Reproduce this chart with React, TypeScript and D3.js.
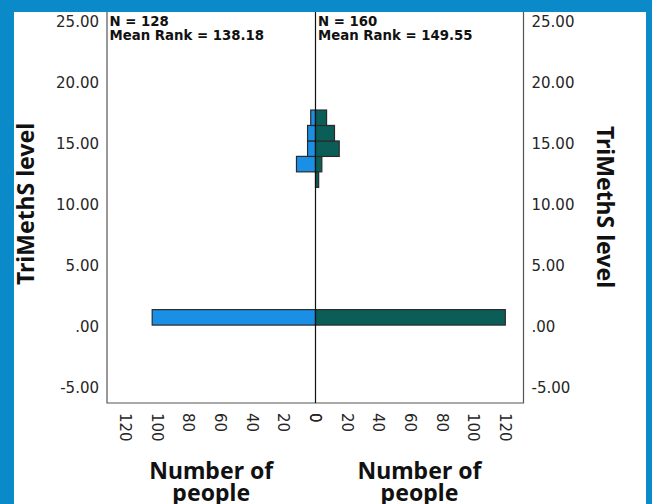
import React, { useRef, useEffect } from 'react';
import * as d3 from 'd3';

// histogram bins (lower edge of each bin, TriMethS level)
const binStarts = [0.15, 11.41, 12.68, 13.94, 15.21, 16.47];
const binWidth = 1.265;
const leftCounts = [103, 0, 12, 5, 5, 3];
const rightCounts = [120, 2, 4, 15, 12, 7];

const leftStats = ['N = 128', 'Mean Rank = 138.18'];
const rightStats = ['N = 160', 'Mean Rank = 149.55'];

const yTicks = [-5, 0, 5, 10, 15, 20, 25];
const xTicks = [0, 20, 40, 60, 80, 100, 120];

const W = 652;
const H = 504;
const BORDER = '#0a8ac8';
const LEFT_FILL = '#1a8fe6';
const RIGHT_FILL = '#0b5e58';

export default function App() {
  const svgRef = useRef<SVGSVGElement | null>(null);

  useEffect(() => {
    if (!svgRef.current) return;
    const svg = d3.select(svgRef.current);
    svg.selectAll('*').remove();

    const plot = { left: 107, right: 523.5, top: 12, bottom: 403 };
    const cx = 315.5;

    const y = d3.scaleLinear().domain([-6.22, 25.75]).range([plot.bottom, plot.top]);
    const xL = d3.scaleLinear().domain([0, 131.5]).range([cx, plot.left]);
    const xR = d3.scaleLinear().domain([0, 131.5]).range([cx, plot.right]);

    svg.append('rect').attr('width', W).attr('height', H).attr('fill', '#fff');

    const tickFmt = (d: number) => {
      const s = d3.format('.2f')(d);
      return d === 0 ? s.replace(/^0/, '') : s.replace('−', '-');
    };
    const tickFont = '"DejaVu Sans", sans-serif';

    // bars
    const bins = binStarts.map((s, i) => ({ s, l: leftCounts[i], r: rightCounts[i] }));
    const bars = svg.append('g').attr('stroke', '#2a2a2a').attr('stroke-width', 1.2);
    bars
      .selectAll('rect.l')
      .data(bins.filter((d) => d.l > 0))
      .join('rect')
      .attr('x', (d) => xL(d.l))
      .attr('y', (d) => y(d.s + binWidth))
      .attr('width', (d) => cx - xL(d.l))
      .attr('height', (d) => y(d.s) - y(d.s + binWidth))
      .attr('fill', LEFT_FILL);
    bars
      .selectAll('rect.r')
      .data(bins.filter((d) => d.r > 0))
      .join('rect')
      .attr('x', cx)
      .attr('y', (d) => y(d.s + binWidth))
      .attr('width', (d) => xR(d.r) - cx)
      .attr('height', (d) => y(d.s) - y(d.s + binWidth))
      .attr('fill', RIGHT_FILL);

    // frame + centre line
    const frame = svg.append('g').attr('fill', 'none');
    frame
      .append('path')
      .attr('d', `M${plot.left},${plot.top}V${plot.bottom}H${plot.right}V${plot.top}`)
      .attr('stroke', '#555')
      .attr('stroke-width', 1.2);
    frame
      .append('line')
      .attr('x1', cx)
      .attr('x2', cx)
      .attr('y1', plot.top)
      .attr('y2', plot.bottom)
      .attr('stroke', '#111')
      .attr('stroke-width', 1.2);

    // y tick labels, both sides
    const yl = svg
      .append('g')
      .attr('font-family', tickFont)
      .attr('font-size', 15)
      .attr('fill', '#262626');
    yl.selectAll('text.l')
      .data(yTicks)
      .join('text')
      .attr('x', plot.left - 8)
      .attr('y', (d) => y(d))
      .attr('dy', '0.36em')
      .attr('text-anchor', 'end')
      .text(tickFmt);
    yl.selectAll('text.r')
      .data(yTicks)
      .join('text')
      .attr('x', plot.right + 8)
      .attr('y', (d) => y(d))
      .attr('dy', '0.36em')
      .text(tickFmt);

    // x tick labels, rotated to read downwards
    const xl = svg
      .append('g')
      .attr('font-family', tickFont)
      .attr('font-size', 15)
      .attr('fill', '#262626');
    const addX = (scale: d3.ScaleLinear<number, number>) =>
      xl
        .append('g')
        .selectAll('text')
        .data(xTicks)
        .join('text')
        .attr('transform', (d) => `translate(${scale(d)},${plot.bottom + 10}) rotate(90)`)
        .attr('dy', '0.36em')
        .text((d) => d);
    addX(xL);
    addX(xR);

    // stats
    const stats = svg
      .append('g')
      .attr('font-family', '"DejaVu Sans", sans-serif')
      .attr('font-weight', 'bold')
      .attr('font-size', 13.3)
      .attr('fill', '#111');
    leftStats.forEach((t, i) => {
      stats.append('text').attr('x', plot.left + 2.5).attr('y', 26 + i * 14).text(t);
    });
    rightStats.forEach((t, i) => {
      stats.append('text').attr('x', cx + 2.5).attr('y', 26 + i * 14).text(t);
    });

    // axis titles
    const titles = svg
      .append('g')
      .attr('font-family', '"Noto Sans", sans-serif')
      .attr('font-weight', 'bold')
      .attr('font-size', 23)
      .attr('fill', '#111')
      .attr('text-anchor', 'middle');
    titles
      .append('text')
      .attr('transform', `translate(33.5,204) rotate(-90)`)
      .text('TriMethS level');
    titles
      .append('text')
      .attr('transform', `translate(597,207) rotate(90)`)
      .text('TriMethS level');
    [(plot.left + cx) / 2, (cx + plot.right) / 2].forEach((x) => {
      titles.append('text').attr('x', x).attr('y', 479).text('Number of');
      titles.append('text').attr('x', x).attr('y', 501).text('people');
    });

    // blue surround
    svg
      .append('path')
      .attr('d', `M0,0H${W}V${H}H0Z M14,12V${H}H646V12Z`)
      .attr('fill', BORDER)
      .attr('fill-rule', 'evenodd');
  }, []);

  return (
    <svg
      ref={svgRef}
      width={W}
      height={H}
      style={{ position: 'absolute', left: 0, top: 0, display: 'block' }}
    />
  );
}
